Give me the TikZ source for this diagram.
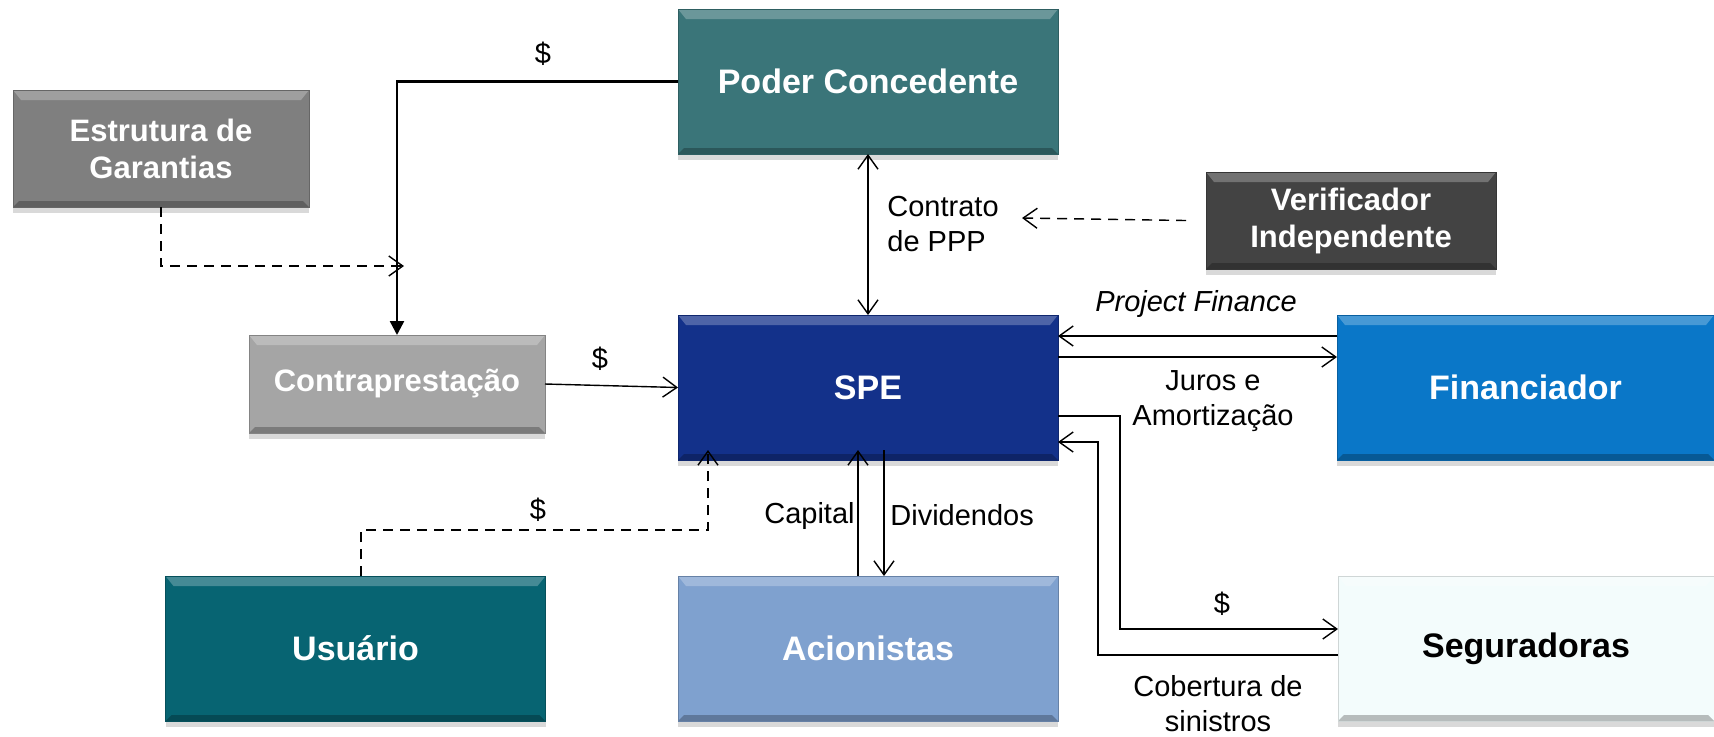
\documentclass[tikz,border=0pt]{standalone}
\usepackage{fontspec}
\setmainfont{Liberation Sans}
\usetikzlibrary{arrows.meta,shadows}

\definecolor{garantiacor}{HTML}{7F7F7F}
\definecolor{podercor}{HTML}{3A7579}
\definecolor{verifcor}{HTML}{434343}
\definecolor{contracor}{HTML}{A5A5A5}
\definecolor{specor}{HTML}{13318A}
\definecolor{financor}{HTML}{0A77C8}
\definecolor{usuariocor}{HTML}{076472}
\definecolor{acioncor}{HTML}{7FA1CF}
\definecolor{segurcor}{HTML}{F3FCFC}

\tikzset{
	caixa/.style={rectangle, inner sep=0pt, outer sep=0pt, align=center, text=white,
		font=\bfseries\fontsize{17}{20}\selectfont,
		drop shadow={shadow xshift=0pt, shadow yshift=-3pt, opacity=0.3},
		path picture={
			\fill[white, opacity=0.25] (path picture bounding box.north west) -- (path picture bounding box.north east)
				-- ([shift={(-4pt,-5pt)}]path picture bounding box.north east) -- ([shift={(4pt,-5pt)}]path picture bounding box.north west) -- cycle;
			\fill[black, opacity=0.25] (path picture bounding box.south west) -- (path picture bounding box.south east)
				-- ([shift={(-3pt,3pt)}]path picture bounding box.south east) -- ([shift={(3pt,3pt)}]path picture bounding box.south west) -- cycle;
		}},
	grande/.style={caixa, minimum width=190pt, minimum height=72.5pt},
	pequena/.style={caixa, font=\bfseries\fontsize{15.5}{18.5}\selectfont},
	rotulo/.style={inner sep=0pt, align=center, font=\fontsize{14.5}{17.5}\selectfont},
	ponta/.tip={Straight Barb[length=7pt,width=10pt]},
	liga/.style={line width=0.7pt, -ponta},
	tracejado/.style={liga, dash pattern=on 5pt off 3.5pt},
}

\begin{document}
\begin{tikzpicture}[x=0.5pt, y=-0.5pt]
	\useasboundingbox (0,0) rectangle (1714,736);

	\node[pequena, fill=garantiacor, draw=garantiacor!80!black, minimum width=148pt, minimum height=58.5pt] (garantia) at (161,148.5) {Estrutura de\\Garantias};
	\node[grande, fill=podercor, draw=podercor!80!black] (poder) at (868,81.5) {Poder Concedente};
	\node[pequena, fill=verifcor, draw=verifcor!80!black, minimum width=145pt, minimum height=48.5pt, text depth=3pt] (verif) at (1351,220.5) {Verificador\\Independente};
	\node[pequena, fill=contracor, draw=contracor!80!black, minimum width=148pt, minimum height=49pt] (contra) at (397,384) {Contraprestação};
	\node[grande, fill=specor, draw=specor!80!black] (spe) at (868,387.5) {SPE};
	\node[grande, fill=financor, draw=financor!80!black, minimum width=188.5pt] (finan) at (1525.5,387.5) {Financiador};
	\node[grande, fill=usuariocor, draw=usuariocor!80!black] (usuario) at (355.5,648.5) {Usuário};
	\node[grande, fill=acioncor, draw=acioncor!80!black] (acion) at (868,648.5) {Acionistas};
	\node[grande, fill=segurcor, draw=segurcor!85!black, text=black, minimum width=188pt] (segur) at (1526,648.5) {Seguradoras};

	\node[rotulo] (dpoder) at (543,54) {\$};
	\node[rotulo] (dcontra) at (600,359) {\$};
	\node[rotulo, anchor=west, align=left] (contrato) at (887,224) {Contrato\\de PPP};
	\node[rotulo] (project) at (1196,304) {\itshape Project Finance};
	\node[rotulo] (juros) at (1213,401) {Juros e\\Amortização};
	\node[rotulo] (dsegur) at (1222,604) {\$};
	\node[rotulo] (cobertura) at (1218,704) {Cobertura de\\sinistros};
	\node[rotulo, anchor=east] (capital) at (855,516) {Capital};
	\node[rotulo, anchor=west] (dividendos) at (890,515) {Dividendos};
	\node[rotulo] (dusuario) at (538,510) {\$};

	\coordinate (gseta) at (404,266);
	\coordinate (vseta) at (1022,218);

	\draw[line width=1.2pt, -{Triangle[length=7pt,width=7pt]}] (poder.west) -| (contra.north);
	\draw[tracejado] (garantia.south) |- (gseta);
	\draw[liga] (contra.east) -- (spe.west);
	\draw[liga, ponta-ponta] (poder) -- (spe);
	\draw[tracejado] ([xshift=-10pt]verif.west) -- (vseta);
	\draw[liga] ([yshift=25.75pt]finan.west) -- ([yshift=25.75pt]spe.east);
	\draw[liga] ([yshift=15.25pt]spe.east) -- ([yshift=15.25pt]finan.west);
	\draw[liga] ([yshift=-14.25pt]spe.east) -- ++(62,0) |- ([yshift=9.75pt]segur.west);
	\draw[liga] ([yshift=-3.25pt]segur.west) -- ++(-240,0) |- ([yshift=-27.25pt]spe.east);
	\draw[liga] ([xshift=-5pt]acion.north) -- ([xshift=-5pt,yshift=5pt]spe.south);
	\draw[liga] ([xshift=8pt,yshift=5pt]spe.south) -- ([xshift=8pt]acion.north);
	\draw[tracejado] ([xshift=2.75pt]usuario.north) -- ++(0,-46) -| ([xshift=-80pt,yshift=5pt]spe.south);
\end{tikzpicture}
\end{document}
